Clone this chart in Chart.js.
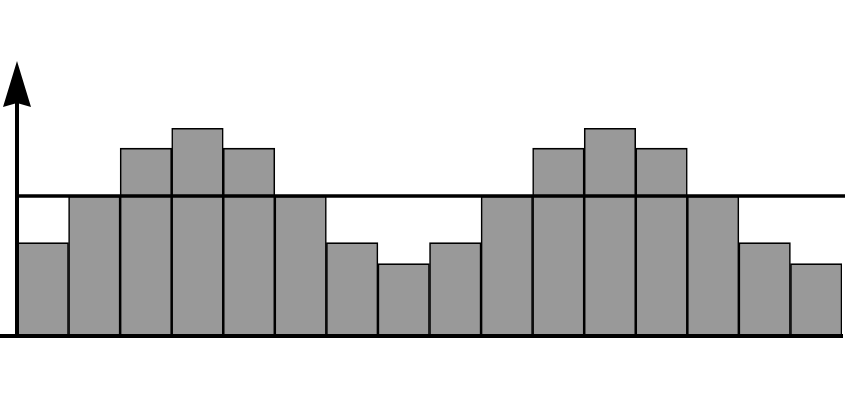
<!DOCTYPE html>
<html>
<head>
<meta charset="utf-8">
<script src="https://cdn.jsdelivr.net/npm/chart.js@4"></script>
<style>
html,body{margin:0;padding:0;background:#fff;}
#wrap{width:847px;height:402px;}
</style>
</head>
<body>
<div id="wrap"><canvas id="c" width="847" height="402"></canvas></div>
<script>
const categories = ['1','2','3','4','5','6','7','8','9','10','11','12','13','14','15','16'];
const values = [4.0, 6.0, 8.05, 8.9, 8.05, 6.0, 4.0, 3.1, 4.0, 6.0, 8.05, 8.9, 8.05, 6.0, 4.0, 3.1];
const referenceLevel = [6.0];
const yRange = [0, 12];

const decor = {
  id: 'decor',
  afterDatasetsDraw(chart) {
    const ctx = chart.ctx;
    const y = chart.scales.y;
    const area = chart.chartArea;
    const y0 = y.getPixelForValue(0);
    const yr = y.getPixelForValue(referenceLevel[0]);
    ctx.save();
    ctx.strokeStyle = '#000';
    ctx.fillStyle = '#000';
    ctx.lineCap = 'butt';
    // reference line
    ctx.lineWidth = 3.5;
    ctx.beginPath();
    ctx.moveTo(area.left, yr);
    ctx.lineTo(area.right + 3, yr);
    ctx.stroke();
    // baseline
    ctx.lineWidth = 4;
    ctx.beginPath();
    ctx.moveTo(0, y0);
    ctx.lineTo(area.right + 1, y0);
    ctx.stroke();
    // y axis shaft
    const ax = area.left;
    ctx.lineWidth = 4;
    ctx.beginPath();
    ctx.moveTo(ax, y0 + 2);
    ctx.lineTo(ax, 100);
    ctx.stroke();
    // arrow head
    ctx.beginPath();
    ctx.moveTo(ax, 61);
    ctx.lineTo(ax + 14, 107);
    ctx.lineTo(ax, 103);
    ctx.lineTo(ax - 14, 107);
    ctx.closePath();
    ctx.fill();
    ctx.restore();
  }
};

new Chart(document.getElementById('c'), {
  type: 'bar',
  data: {
    labels: categories,
    datasets: [{
      data: values,
      backgroundColor: '#999999',
      borderColor: '#000000',
      borderWidth: 1.6,
      borderSkipped: false,
      barPercentage: 1.0,
      categoryPercentage: 1.0
    }]
  },
  options: {
    responsive: false,
    animation: false,
    devicePixelRatio: 1,
    layout: { padding: { left: 17, right: 5, top: 56, bottom: 66 } },
    plugins: { legend: { display: false }, tooltip: { enabled: false } },
    scales: {
      x: { display: false, offset: true, grid: { display: false } },
      y: { display: false, min: yRange[0], max: yRange[1], grid: { display: false } }
    }
  },
  plugins: [decor]
});
</script>
</body>
</html>
